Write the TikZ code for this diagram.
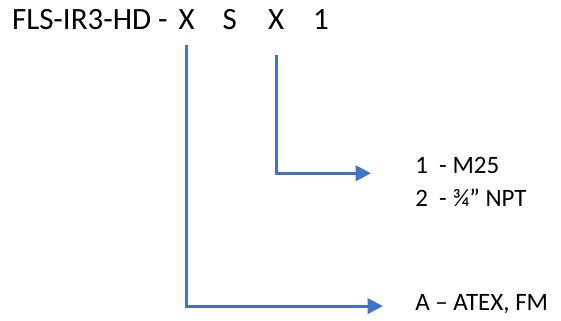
\documentclass[tikz,border=0pt]{standalone}
\usepackage{fontspec}
\setmainfont{Carlito}
\usepackage{xcolor}
\usepackage{tikz}
\usetikzlibrary{positioning,arrows.meta,calc}

\begin{document}
\begin{tikzpicture}[
    code/.style={
        font=\fontsize{31}{37}\selectfont,
        inner sep=0pt,
        anchor=base
    },
    model/.style={
        code,
        anchor=base west
    },
    option/.style={
        font=\fontsize{25}{30}\selectfont,
        inner sep=0pt,
        anchor=base west
    },
    arrow/.style={
        -{Triangle[length=5.4mm,width=5.4mm]},
        line width=1.05mm,
        draw=leaderblue
    }
]

\definecolor{leaderblue}{RGB}{68,114,196}

\useasboundingbox (0,0) rectangle (19.72,11.25);

% Product code
\node[model] (model) at (0.42,10.23) {FLS-IR3-HD -};
\node[code] (certcode) at (6.56,10.23) {X};
\node[code] (sensorcode) at (8.08,10.23) {S};
\node[code] (entrycode) at (9.71,10.23) {X};
\node[code] (lastcode) at (11.28,10.23) {1};

% Options
\node[option] (metric) at (14.59,5.16) {1\ \ - M25};
\node[option] (npt) at (14.59,3.98) {2\ \ - ¾” NPT};
\node[option] (atex) at (14.59,0.33) {A – ATEX, FM};

% Arrow ends
\coordinate (entrytip) at (13.04,5.16);
\coordinate (certtip) at (13.46,0.49);

% Leaders
\draw[arrow] ([yshift=-0.56cm]certcode.south) |- (certtip);
\draw[arrow] ([yshift=-0.92cm]entrycode.south) |- (entrytip);

\end{tikzpicture}
\end{document}
